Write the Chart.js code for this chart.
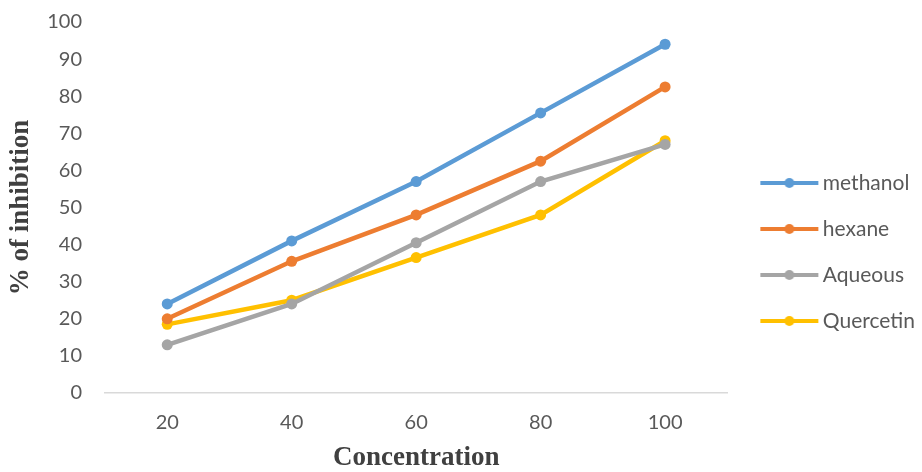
<!DOCTYPE html>
<html>
<head>
<meta charset="utf-8">
<script src="https://cdn.jsdelivr.net/npm/chart.js@4/dist/chart.umd.min.js"></script>
<style>
  html, body { margin: 0; padding: 0; background: #fff; }
  #wrap { width: 922px; height: 472px; }
</style>
</head>
<body>
<div id="wrap"><canvas id="chart" width="922" height="472"></canvas></div>
<script>
  const categories = ["20", "40", "60", "80", "100"];
  const methanol = [24, 41, 57, 75.5, 94];
  const hexane = [20, 35.5, 48, 62.5, 82.5];
  const aqueous = [13, 24, 40.5, 57, 67];
  const quercetin = [18.5, 25, 36.5, 48, 68];
  const seriesNames = ["methanol", "hexane", "Aqueous", "Quercetin"];
  const COLORS = ["#5B9BD5", "#ED7D31", "#A5A5A5", "#FFC000"];

  // legend marker: short line with a dot, like the excel legend.
  // canvas is wider than the legend box, so the line sits a bit right of it
  function legendMarker(color) {
    const c = document.createElement("canvas");
    c.width = 80;
    c.height = 14;
    const ctx = c.getContext("2d");
    ctx.strokeStyle = color;
    ctx.lineWidth = 4;
    ctx.beginPath();
    ctx.moveTo(18, 7);
    ctx.lineTo(76, 7);
    ctx.stroke();
    ctx.fillStyle = color;
    ctx.beginPath();
    ctx.arc(47, 7, 5, 0, Math.PI * 2);
    ctx.fill();
    return c;
  }

  const allValues = [methanol, hexane, aqueous, quercetin];
  const datasets = allValues.map((data, i) => ({
    label: seriesNames[i],
    data,
    borderColor: COLORS[i],
    backgroundColor: COLORS[i],
    borderWidth: 4.5,
    pointRadius: 5.5,
    pointHoverRadius: 5.5,
    pointBorderWidth: 0,
    pointStyle: "circle",
    legendImg: legendMarker(COLORS[i]),
    tension: 0,
  }));

  const serifTitle = { family: "Liberation Serif", size: 27, weight: "bold", lineHeight: 1 };
  const tickFont = { family: "Lato", size: 20 };

  new Chart(document.getElementById("chart"), {
    type: "line",
    data: { labels: categories, datasets },
    options: {
      responsive: false,
      animation: false,
      layout: { padding: { top: 22, right: -3, bottom: 0, left: 8 } },
      plugins: {
        tooltip: { enabled: false },
        legend: {
          position: "right",
          // blank title only pushes the items down a bit
          title: { display: true, text: " ", font: { size: 10, lineHeight: 1 }, padding: 0 },
          labels: {
            usePointStyle: true,
            pointStyleWidth: 60,
            padding: 25,
            color: "#595959",
            font: { family: "Lato", size: 21 },
            generateLabels: (chart) =>
              chart.data.datasets.map((d, i) => ({
                text: d.label,
                pointStyle: d.legendImg,
                fillStyle: d.borderColor,
                strokeStyle: d.borderColor,
                fontColor: "#595959",
                lineWidth: 0,
                hidden: false,
                datasetIndex: i,
              })),
          },
        },
      },
      scales: {
        x: {
          offset: true,
          grid: { display: false, drawTicks: false },
          border: { display: true, color: "#D9D9D9", width: 1.5 },
          ticks: { color: "#595959", padding: 18, font: tickFont },
          title: {
            display: true,
            text: "Concentration",
            color: "#404040",
            font: serifTitle,
            padding: { top: 9, bottom: 0 },
          },
          afterFit: (scale) => {
            scale.height = 79;
          },
        },
        y: {
          min: 0,
          max: 100,
          grid: { display: false, drawTicks: false },
          border: { display: false },
          ticks: { stepSize: 10, color: "#595959", padding: 23, font: tickFont },
          title: {
            display: true,
            text: "% of inhibition",
            color: "#404040",
            font: serifTitle,
            padding: { top: 0, bottom: 11 },
          },
          afterFit: (scale) => {
            scale.width = 97;
            scale.paddingTop = 0;
            scale.paddingBottom = 0;
          },
        },
      },
    },
  });
</script>
</body>
</html>
